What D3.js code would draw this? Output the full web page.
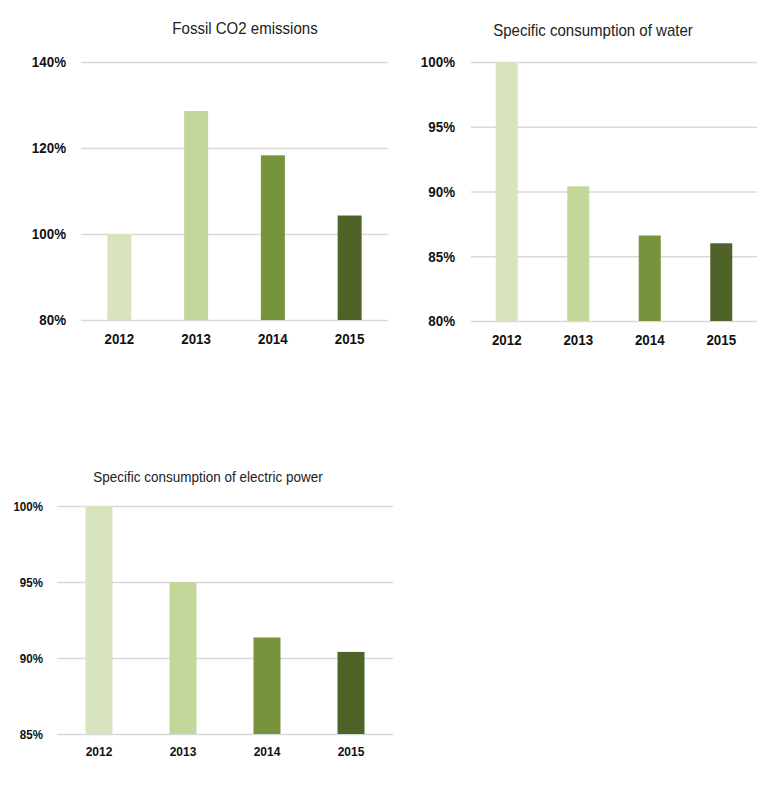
<!DOCTYPE html>
<html>
<head>
<meta charset="utf-8">
<script src="https://cdn.jsdelivr.net/npm/d3@7"></script>
<style>
  html, body { margin: 0; padding: 0; background: #fff; }
  svg { display: block; font-family: "Liberation Sans", Arial, sans-serif; }
</style>
</head>
<body>
<svg id="chart" width="773" height="785"></svg>
<script>
// ---- data ----
const years = ["2012", "2013", "2014", "2015"];
const co2Values = [100, 128.6, 118.3, 104.3];
const waterValues = [100, 90.4, 86.6, 86.0];
const powerValues = [100, 95.0, 91.35, 90.4];
const co2Ticks = [80, 100, 120, 140];
const waterTicks = [80, 85, 90, 95, 100];
const powerTicks = [85, 90, 95, 100];
const titles = ["Fossil CO2 emissions", "Specific consumption of water", "Specific consumption of electric power"];

const barColors = ["#d8e4bd", "#c4d79b", "#77933c", "#4f6228"];

const svg = d3.select("#chart");

function drawChart(cfg) {
  const g = svg.append("g");
  const x = d3.scaleBand().domain(years).range([cfg.x0, cfg.x1]);
  const y = d3.scaleLinear().domain([cfg.ticks[0], cfg.ticks[cfg.ticks.length - 1]]).range([cfg.yb, cfg.yt]);

  // gridlines via axis
  const grid = g.append("g")
    .attr("transform", `translate(${cfg.x0},0)`)
    .call(d3.axisLeft(y).tickValues(cfg.ticks).tickSize(-(cfg.x1 - cfg.x0)).tickFormat(""));
  grid.select(".domain").remove();
  grid.selectAll(".tick line").attr("stroke", "#d9d9d9").attr("stroke-width", 1.5);

  // y labels
  const ya = g.append("g")
    .attr("transform", `translate(${cfg.labelRight},0)`)
    .call(d3.axisLeft(y).tickValues(cfg.ticks).tickSize(0).tickPadding(0).tickFormat(d => d + "%"));
  ya.select(".domain").remove();
  ya.selectAll("text")
    .attr("x", 0)
    .attr("font-family", "'Liberation Sans', Arial, sans-serif")
    .attr("font-size", cfg.ySize).attr("font-weight", "bold").attr("fill", "#111")
    .attr("transform", `scale(${cfg.squeeze},1)`);

  // bars
  g.selectAll("rect.bar").data(cfg.values).join("rect")
    .attr("class", "bar")
    .attr("x", (d, i) => x(years[i]) + x.bandwidth() / 2 - cfg.barW / 2)
    .attr("width", cfg.barW)
    .attr("y", d => y(d))
    .attr("height", d => y(cfg.ticks[0]) - y(d))
    .attr("fill", (d, i) => barColors[i]);

  // x labels
  const xa = g.append("g")
    .attr("transform", `translate(0,${cfg.yb})`)
    .call(d3.axisBottom(x).tickSize(0).tickPadding(cfg.xPad));
  xa.select(".domain").remove();
  xa.selectAll("text")
    .attr("font-family", "'Liberation Sans', Arial, sans-serif")
    .attr("font-size", cfg.xSize).attr("font-weight", "bold").attr("fill", "#111")
    .attr("transform", `scale(${cfg.squeeze},1)`);

  // title
  g.append("g").attr("transform", `translate(${cfg.tx},${cfg.ty})`)
    .append("text")
    .attr("text-anchor", "middle").attr("dy", "0.35em")
    .attr("transform", `scale(${cfg.tSqueeze},1)`)
    .attr("font-size", cfg.tSize).attr("fill", "#222")
    .text(cfg.title);
}

drawChart({ values: co2Values, ticks: co2Ticks, title: titles[0],
  x0: 81, x1: 388, yt: 62, yb: 320, labelRight: 66, barW: 24,
  ySize: 15, xSize: 15, xPad: 13, squeeze: 0.89, tSize: 16, tSqueeze: 0.94, tx: 245, ty: 28 });

drawChart({ values: waterValues, ticks: waterTicks, title: titles[1],
  x0: 471, x1: 757, yt: 62, yb: 321, labelRight: 455, barW: 22,
  ySize: 15, xSize: 15, xPad: 13, squeeze: 0.89, tSize: 16, tSqueeze: 0.94, tx: 593, ty: 30 });

drawChart({ values: powerValues, ticks: powerTicks, title: titles[2],
  x0: 57, x1: 393, yt: 506, yb: 734, labelRight: 43, barW: 27,
  ySize: 13, xSize: 13.5, xPad: 12, squeeze: 0.89, tSize: 14.5, tSqueeze: 0.93, tx: 208, ty: 477 });
</script>
</body>
</html>
